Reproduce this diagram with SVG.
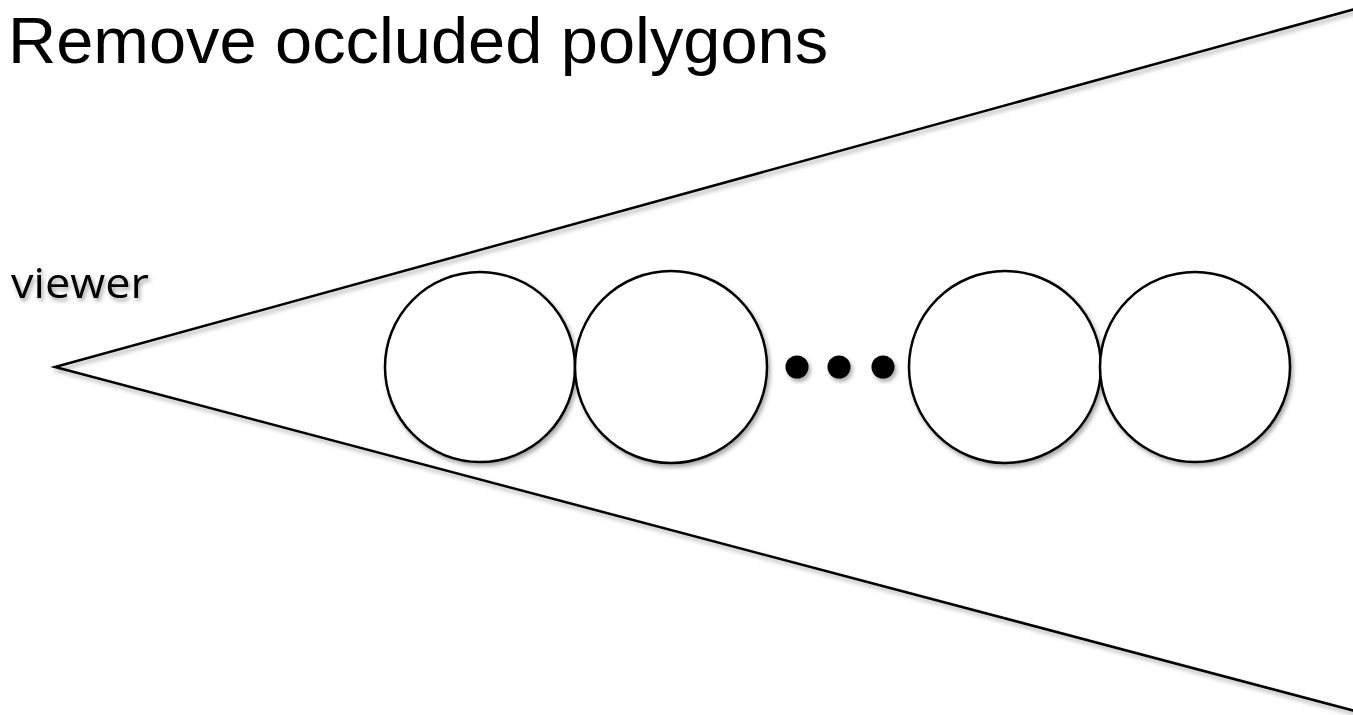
<svg xmlns="http://www.w3.org/2000/svg" width="1353" height="715" viewBox="0 0 1353 715">
<defs>
<filter id="sh" x="-10%" y="-10%" width="130%" height="130%">
<feDropShadow dx="2" dy="3" stdDeviation="2" flood-color="#000" flood-opacity="0.35"/>
</filter>
</defs>
<style>
.ln{fill:none;stroke:#000;stroke-width:2.5;stroke-linejoin:miter}
.c{fill:#fff;stroke:#000;stroke-width:2.5}
.d{fill:#000}
.title{font-family:"Liberation Sans",Arial,sans-serif;font-size:64px;fill:#000}
.lbl{font-family:"Open Sans","Liberation Sans",sans-serif;font-size:42px;fill:#000}
</style>
<rect width="1353" height="715" fill="#fff"/>
<text class="title" x="8" y="63" textLength="820" lengthAdjust="spacingAndGlyphs">Remove occluded polygons</text>
<g id="connectors" filter="url(#sh)">
<polyline class="ln" points="1355,9 55,367 1355,711"/>
</g>
<g id="viewer" filter="url(#sh)">
<text class="lbl" x="11" y="298" textLength="138" lengthAdjust="spacingAndGlyphs">viewer</text>
</g>
<g id="circle1" filter="url(#sh)"><circle class="c" cx="480" cy="367" r="95"/></g>
<g id="circle2" filter="url(#sh)"><circle class="c" cx="671" cy="367" r="96"/></g>
<g id="dots" filter="url(#sh)">
<circle class="d" cx="797" cy="367" r="11.5"/>
<circle class="d" cx="839" cy="367" r="11.5"/>
<circle class="d" cx="883" cy="367" r="11.5"/>
</g>
<g id="circle3" filter="url(#sh)"><circle class="c" cx="1005" cy="367" r="96"/></g>
<g id="circle4" filter="url(#sh)"><circle class="c" cx="1195" cy="367" r="95"/></g>
</svg>
